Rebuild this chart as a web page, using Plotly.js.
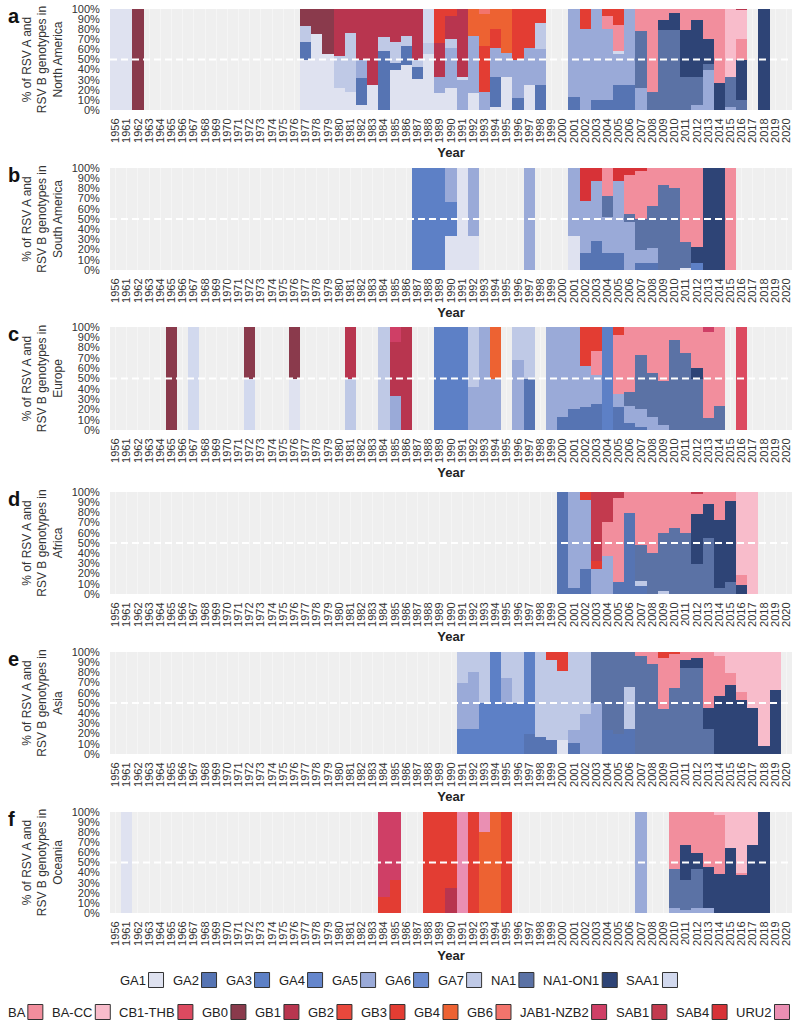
<!DOCTYPE html>
<html><head><meta charset="utf-8">
<script src="https://cdn.plot.ly/plotly-3.0.1.min.js"></script>
<style>body{margin:0;background:#fff}</style>
</head><body><div id="chart" style="width:800px;height:1030px"></div>
<script>
const years = ['1956','1961','1962','1963','1964','1965','1966','1967','1968','1969','1970','1971','1972','1973','1974','1975','1976','1977','1978','1979','1980','1981','1982','1983','1984','1985','1986','1987','1988','1989','1990','1991','1992','1993','1994','1995','1996','1997','1998','1999','2000','2001','2002','2003','2004','2005','2006','2007','2008','2009','2010','2011','2012','2013','2014','2015','2016','2017','2018','2019','2020'];
const yTickVals = [0,10,20,30,40,50,60,70,80,90,100];
const yTickText = ['0%','10%','20%','30%','40%','50%','60%','70%','80%','90%','100%'];

const genotypesA = ['GA1','GA2','GA3','GA4','GA5','GA6','GA7','NA1','NA1-ON1','SAA1'];
const colorsA = ['#dfe2f0','#5674b3','#5d80c6','#6586cc','#9aaad8','#6b8bcf','#bfc9e6','#5b72a5','#2e4476','#d2d9ee'];
const genotypesB = ['BA','BA-CC','CB1-THB','GB0','GB1','GB2','GB3','GB4','GB6','JAB1-NZB2','SAB1','SAB4','URU2'];
const colorsB = ['#f28e9d','#f8bccb','#dc4a60','#8a3a4c','#b8354f','#e8483c','#e33d33','#ed6232','#f3746c','#cf3f66','#c33a4e','#d73237','#ea8fb3'];

const regions = ['North America','South America','Europe','Africa','Asia','Oceania'];
const panelLetters = ['a','b','c','d','e','f'];

// [year, genotype, percent]
const naData = [
 [1956,'GA1',100],[1961,'GA1',100],[1962,'GB0',100],
 [1977,'GA1',50],[1977,'GA2',17],[1977,'GA7',16],[1977,'GB0',17],
 [1978,'GA1',75],[1978,'GB0',25],
 [1979,'GA1',55],[1979,'GB0',45],
 [1980,'GA1',22],[1980,'GA7',31],[1980,'GB1',47],
 [1981,'GA1',18],[1981,'GA7',58],[1981,'GB1',24],
 [1982,'GA1',5],[1982,'GA2',27],[1982,'GA5',18],[1982,'GB1',50],
 [1983,'GA1',25],[1983,'GB1',75],
 [1984,'GA2',58],[1984,'GA7',14],[1984,'GB1',28],
 [1985,'GA1',40],[1985,'GA2',7],[1985,'GA7',20],[1985,'GB1',33],
 [1986,'GA1',45],[1986,'GA2',18],[1986,'GA7',10],[1986,'GB1',27],
 [1987,'GA1',31],[1987,'GA2',12],[1987,'GA7',7],[1987,'GB1',50],
 [1988,'GA1',55],[1988,'GA7',11],[1988,'SAA1',34],
 [1989,'GA1',17],[1989,'GA5',16],[1989,'GB1',33],[1989,'GB3',34],
 [1990,'GA1',22],[1990,'GA5',39],[1990,'GA7',9],[1990,'GB1',23],[1990,'GB3',7],
 [1991,'GA5',30],[1991,'SAA1',3],[1991,'GB1',67],
 [1992,'GA1',17],[1992,'GA5',56],[1992,'GB4',27],
 [1993,'GA5',18],[1993,'GB3',45],[1993,'GB4',32],[1993,'GB6',5],
 [1994,'GA1',3],[1994,'GA2',30],[1994,'GA5',28],[1994,'GB3',19],[1994,'GB4',20],
 [1995,'GA1',33],[1995,'GA5',23],[1995,'GB4',44],
 [1996,'GA2',12],[1996,'GA5',38],[1996,'GB3',50],
 [1997,'GA1',25],[1997,'GA5',36],[1997,'GB3',39],
 [1998,'GA2',25],[1998,'GA5',35],[1998,'GA7',26],[1998,'GB3',14],
 [2001,'GA2',13],[2001,'GA5',87],
 [2002,'GA5',80],[2002,'GB3',20],
 [2003,'GA2',10],[2003,'GA5',90],
 [2004,'GA2',10],[2004,'GA5',70],[2004,'BA',13],[2004,'GB3',7],
 [2005,'GA2',25],[2005,'GA5',30],[2005,'SAA1',3],[2005,'BA',26],[2005,'GB3',16],
 [2006,'GA2',25],[2006,'GA5',75],
 [2007,'GA5',22],[2007,'NA1',56],[2007,'BA',22],
 [2008,'NA1',18],[2008,'BA',82],
 [2009,'NA1',79],[2009,'NA1-ON1',10],[2009,'BA',11],
 [2010,'NA1',79],[2010,'NA1-ON1',17],[2010,'BA',4],
 [2011,'NA1',33],[2011,'NA1-ON1',46],[2011,'BA',21],
 [2012,'GA5',5],[2012,'NA1',28],[2012,'NA1-ON1',56],[2012,'BA',11],
 [2013,'GA5',40],[2013,'NA1',6],[2013,'NA1-ON1',24],[2013,'BA',30],
 [2014,'NA1-ON1',27],[2014,'BA',73],
 [2015,'GA5',3],[2015,'NA1',30],[2015,'BA-CC',67],
 [2016,'NA1',10],[2016,'NA1-ON1',40],[2016,'BA',20],[2016,'BA-CC',29],[2016,'GB1',1],
 [2018,'NA1-ON1',100]
];

const saData = [
 [1987,'GA3',100],[1988,'GA3',100],[1989,'GA3',100],
 [1990,'GA1',33],[1990,'GA3',34],[1990,'GA5',33],
 [1991,'GA1',100],
 [1992,'GA1',33],[1992,'GA5',67],
 [1997,'GA5',100],
 [2001,'GA1',33],[2001,'GA5',67],
 [2002,'GA2',17],[2002,'GA5',51],[2002,'SAB4',32],
 [2003,'GA2',28],[2003,'GA5',59],[2003,'SAB4',13],
 [2004,'GA2',17],[2004,'GA5',35],[2004,'NA1',21],[2004,'BA',27],
 [2005,'GA2',17],[2005,'GA5',70],[2005,'SAB4',13],
 [2006,'GA5',47],[2006,'NA1',8],[2006,'BA',38],[2006,'SAB4',7],
 [2007,'GA2',7],[2007,'GA5',13],[2007,'NA1',30],[2007,'BA',47],[2007,'SAB4',3],
 [2008,'GA2',7],[2008,'GA5',15],[2008,'NA1',41],[2008,'BA',37],
 [2009,'NA1',83],[2009,'BA',17],
 [2010,'NA1',80],[2010,'BA',20],
 [2011,'GA1',2],[2011,'NA1',25],[2011,'BA',73],
 [2012,'GA3',7],[2012,'NA1-ON1',16],[2012,'BA',77],
 [2013,'NA1-ON1',100],[2014,'NA1-ON1',100],
 [2015,'BA',100]
];

const euData = [
 [1965,'GB0',100],
 [1967,'SAA1',100],
 [1972,'SAA1',50],[1972,'GB0',50],
 [1976,'GA1',50],[1976,'GB0',50],
 [1981,'GA7',50],[1981,'GB1',50],
 [1984,'GA7',100],
 [1985,'GA5',33],[1985,'GB1',52],[1985,'JAB1-NZB2',15],
 [1986,'GB1',100],
 [1989,'GA3',100],[1990,'GA3',100],[1991,'GA3',100],
 [1992,'GA5',42],[1992,'GA7',58],
 [1993,'GA5',100],
 [1994,'GA5',50],[1994,'GB4',50],
 [1996,'GA5',68],[1996,'GA7',32],
 [1997,'GA2',50],[1997,'GA7',50],
 [1999,'GA5',100],
 [2000,'GA2',13],[2000,'GA5',87],
 [2001,'GA2',20],[2001,'GA5',80],
 [2002,'GA2',22],[2002,'GA5',40],[2002,'GB3',38],
 [2003,'GA2',25],[2003,'GA5',28],[2003,'BA',24],[2003,'GB3',23],
 [2004,'GA3',100],
 [2005,'GA2',22],[2005,'GA5',13],[2005,'BA',57],[2005,'GB3',8],
 [2006,'GA2',7],[2006,'GA5',16],[2006,'NA1',14],[2006,'BA',63],
 [2007,'GA2',3],[2007,'GA5',17],[2007,'NA1',53],[2007,'BA',27],
 [2008,'GA5',13],[2008,'NA1',42],[2008,'BA',45],
 [2009,'GA5',5],[2009,'NA1',43],[2009,'BA',52],
 [2010,'NA1',87],[2010,'BA',13],
 [2011,'NA1',75],[2011,'BA',25],
 [2012,'NA1',50],[2012,'NA1-ON1',10],[2012,'BA',40],
 [2013,'NA1',12],[2013,'BA',83],[2013,'JAB1-NZB2',5],
 [2014,'NA1',23],[2014,'BA',77],
 [2016,'CB1-THB',100]
];

const afData = [
 [2000,'GA2',100],
 [2001,'GA2',6],[2001,'GA5',94],
 [2002,'GA2',25],[2002,'GA5',67],[2002,'GB3',8],
 [2003,'GA5',25],[2003,'GB3',7],[2003,'SAB1',68],
 [2004,'GA5',37],[2004,'BA',34],[2004,'SAB1',29],
 [2005,'GA2',12],[2005,'BA',82],[2005,'SAB1',6],
 [2006,'GA2',79],[2006,'BA',21],
 [2007,'GA2',8],[2007,'GA7',5],[2007,'NA1',35],[2007,'BA',52],
 [2008,'NA1',40],[2008,'BA',60],
 [2009,'GA7',3],[2009,'NA1',57],[2009,'BA',40],
 [2010,'NA1',65],[2010,'BA',35],
 [2011,'NA1',60],[2011,'BA',40],
 [2012,'NA1',29],[2012,'NA1-ON1',49],[2012,'BA',20],[2012,'SAB1',2],
 [2013,'NA1',55],[2013,'NA1-ON1',33],[2013,'BA',12],
 [2014,'NA1',6],[2014,'NA1-ON1',67],[2014,'BA',27],
 [2015,'NA1',12],[2015,'NA1-ON1',79],[2015,'BA',9],
 [2016,'NA1-ON1',9],[2016,'BA',10],[2016,'BA-CC',81],
 [2017,'BA-CC',100]
];

const asData = [
 [1991,'GA3',25],[1991,'GA5',45],[1991,'GA7',30],
 [1992,'GA3',25],[1992,'GA5',55],[1992,'GA7',20],
 [1993,'GA3',50],[1993,'GA7',50],
 [1994,'GA3',100],
 [1995,'GA3',50],[1995,'GA5',25],[1995,'GA7',25],
 [1996,'GA3',50],[1996,'GA7',50],
 [1997,'GA2',20],[1997,'GA3',80],
 [1998,'GA2',17],[1998,'GA7',83],
 [1999,'GA2',14],[1999,'GA7',78],[1999,'GB3',8],
 [2000,'GA1',14],[2000,'GA7',67],[2000,'GB3',19],
 [2001,'GA2',11],[2001,'GA5',13],[2001,'GA7',76],
 [2002,'GA5',39],[2002,'GA7',61],
 [2003,'GA5',50],[2003,'NA1',50],
 [2004,'GA2',24],[2004,'NA1',76],
 [2005,'GA2',20],[2005,'NA1',80],
 [2006,'GA2',25],[2006,'GA7',41],[2006,'NA1',34],
 [2007,'NA1',96],[2007,'BA',4],
 [2008,'NA1',88],[2008,'BA',12],
 [2009,'NA1',44],[2009,'BA',50],[2009,'GB3',6],
 [2010,'NA1',65],[2010,'BA',33],[2010,'GB3',2],
 [2011,'NA1',84],[2011,'NA1-ON1',8],[2011,'BA',8],
 [2012,'NA1',84],[2012,'NA1-ON1',10],[2012,'BA',6],
 [2013,'NA1',25],[2013,'NA1-ON1',20],[2013,'BA',55],
 [2014,'NA1-ON1',57],[2014,'BA',39],[2014,'BA-CC',4],
 [2015,'NA1-ON1',68],[2015,'BA',11],[2015,'BA-CC',21],
 [2016,'NA1-ON1',53],[2016,'BA',8],[2016,'BA-CC',39],
 [2017,'NA1-ON1',45],[2017,'BA-CC',55],
 [2018,'NA1-ON1',8],[2018,'BA-CC',92],
 [2019,'NA1-ON1',63],[2019,'BA-CC',37]
];

const ocData = [
 [1961,'GA1',100],
 [1984,'GB3',16],[1984,'JAB1-NZB2',84],
 [1985,'GB3',33],[1985,'JAB1-NZB2',67],
 [1988,'GB3',100],[1989,'GB3',100],
 [1990,'GB1',25],[1990,'GB3',75],
 [1991,'URU2',100],
 [1992,'GB3',100],
 [1993,'GB4',80],[1993,'URU2',20],
 [1994,'GB4',100],
 [1995,'GB3',100],
 [2007,'GA5',100],
 [2010,'GA5',5],[2010,'NA1',39],[2010,'BA',56],
 [2011,'GA5',3],[2011,'NA1',30],[2011,'NA1-ON1',34],[2011,'BA',33],
 [2012,'GA5',5],[2012,'NA1',39],[2012,'NA1-ON1',15],[2012,'BA',41],
 [2013,'GA5',5],[2013,'NA1-ON1',41],[2013,'BA',54],
 [2014,'NA1-ON1',39],[2014,'BA',58],[2014,'BA-CC',3],
 [2015,'NA1-ON1',64],[2015,'BA-CC',36],
 [2016,'NA1-ON1',38],[2016,'BA',2],[2016,'BA-CC',60],
 [2017,'NA1-ON1',67],[2017,'BA-CC',33],
 [2018,'NA1-ON1',100]
];

const regionData = [naData, saData, euData, afData, asData, ocData];
const allGenotypes = genotypesA.concat(genotypesB);
const allColors = colorsA.concat(colorsB);

// ---- layout geometry (pixels) ----
const W = 800, H = 1030;
const mL = 110, mR = 8, mT = 9, mB = 117;
const plotW = W - mL - mR, plotH = H - mT - mB;
const panelPx = [[9,110],[168,270],[327,430],[492,594],[652,754],[812,913]];
const pxX = px => (px - mL) / plotW;
const pxY = py => (H - mB - py) / plotH;

const traces = [];
const layout = {
  width: W, height: H,
  margin: {l: mL, r: mR, t: mT, b: mB},
  paper_bgcolor: '#ffffff',
  plot_bgcolor: '#efefef',
  barmode: 'stack', bargap: 0,
  showlegend: false,
  hovermode: false,
  font: {family: '"Liberation Sans", Arial, sans-serif', color: '#333'},
  shapes: [], annotations: []
};

regionData.forEach((data, k) => {
  const suf = k === 0 ? '' : String(k + 1);
  allGenotypes.forEach((g, gi) => {
    const vals = years.map(yr => {
      const e = data.find(d => String(d[0]) === yr && d[1] === g);
      return e ? e[2] : null;
    });
    if (vals.every(v => v === null)) return;
    traces.push({
      type: 'bar', x: years, y: vals, name: g,
      marker: {color: allColors[gi], line: {width: 0}},
      xaxis: 'x' + suf, yaxis: 'y' + suf, showlegend: false
    });
  });
  const [top, bot] = panelPx[k];
  layout['xaxis' + suf] = {
    domain: [0, 1], anchor: 'y' + suf,
    type: 'category', categoryorder: 'array', categoryarray: years,
    range: [-0.5, years.length - 0.5],
    tickmode: 'array', tickvals: years, ticktext: years,
    tickangle: -90, tickfont: {size: 11, color: '#333'},
    ticks: 'outside', ticklen: 3, tickcolor: 'rgba(0,0,0,0)',
    showgrid: true, gridcolor: '#f5f5f5', gridwidth: 1,
    showline: false, zeroline: false,
    title: {text: '<b>Year</b>', font: {size: 13, color: '#222'}, standoff: 6}
  };
  layout['yaxis' + suf] = {
    domain: [pxY(bot), pxY(top)], anchor: 'x' + suf,
    range: [0, 100], tickmode: 'array', tickvals: yTickVals, ticktext: yTickText,
    tickfont: {size: 11, color: '#333'},
    ticks: 'outside', ticklen: 7, tickcolor: 'rgba(0,0,0,0)',
    showgrid: false, zeroline: false, showline: false,
    title: {text: '% of RSV A and<br>RSV B genotypes in<br>' + regions[k], font: {size: 12, color: '#333'}, standoff: 6}
  };
  layout.shapes.push({
    type: 'line', xref: 'x' + suf + ' domain', x0: 0, x1: 1, yref: 'y' + suf, y0: 50, y1: 50,
    line: {color: '#ffffff', width: 2, dash: '7px,4px'}, layer: 'above'
  });
  layout.annotations.push({
    xref: 'paper', yref: 'paper', x: pxX(6), y: pxY(top + 7), xanchor: 'left', yanchor: 'middle',
    text: '<b>' + panelLetters[k] + '</b>', showarrow: false, font: {size: 20, color: '#111'}
  });
});

// ---- custom legend rows: label followed by its colour box ----
const cvs = document.createElement('canvas').getContext('2d');
function tw(s, size) { cvs.font = size + 'px "Liberation Sans"'; return cvs.measureText(s).width; }
function legendRow(names, colors, rowY, centerX) {
  const fs = 13, box = 15, g1 = 4, g2 = 8;
  const widths = names.map(n => tw(n, fs));
  let total = 0;
  widths.forEach((w, i) => { total += w + g1 + box + (i < names.length - 1 ? g2 : 0); });
  let x = centerX - total / 2;
  names.forEach((n, i) => {
    layout.annotations.push({
      xref: 'paper', yref: 'paper', x: pxX(x - 1), y: pxY(rowY), xanchor: 'left', yanchor: 'middle',
      text: n, showarrow: false, font: {size: fs, color: '#222'}
    });
    x += widths[i] + g1;
    layout.shapes.push({
      type: 'rect', xref: 'paper', yref: 'paper',
      x0: pxX(x), x1: pxX(x + box), y0: pxY(rowY + box / 2), y1: pxY(rowY - box / 2),
      fillcolor: colors[i], line: {color: '#333', width: 1}
    });
    x += box + g2;
  });
}
legendRow(genotypesA, colorsA, 980, 398);
legendRow(genotypesB, colorsB, 1012, 398);

Plotly.newPlot('chart', traces, layout, {staticPlot: true});
</script>
</body></html>
